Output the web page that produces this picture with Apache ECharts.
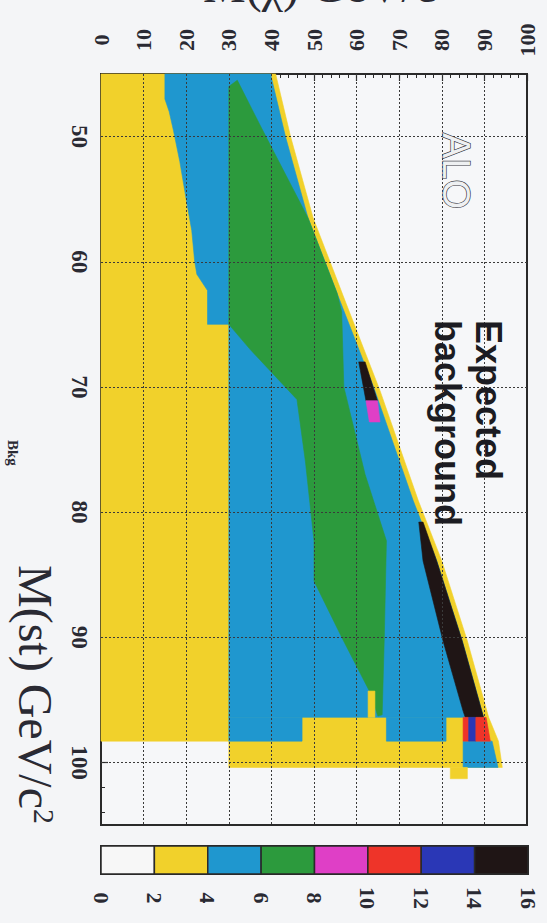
<!DOCTYPE html>
<html>
<head>
<meta charset="utf-8">
<script src="https://cdn.jsdelivr.net/npm/echarts@6/dist/echarts.min.js"></script>
<style>
  html, body { margin: 0; padding: 0; background: #f4f5f7; }
  #chart { width: 547px; height: 923px; }
</style>
</head>
<body>
<div id="chart"></div>
<script>
// Scan ranges (GeV/c²)
const mStopRange = [45, 105];
const mLspRange = [0, 100];
const mStopLabels = [50, 60, 70, 80, 90, 100];
const mStopMinorTicks = [46, 48, 52, 54, 56, 58, 62, 64, 66, 68, 72, 74, 76, 78, 82, 84, 86, 88, 92, 94, 96, 98, 102, 104];
const gridLsp = [10, 20, 30, 40, 50, 60, 70, 80, 90];
const gridStop = [50, 60, 70, 80, 90, 100];

// Colour scale: expected background events
const bkgEdges = [0, 2, 4, 6, 8, 10, 12, 14, 16];
const bkgColors = ['#f7f7f7', '#f1d12b', '#1f97cf', '#2c9a3d', '#df3fc6', '#ee3429', '#2a37b6', '#1f1515'];

// Region outlines as [M(χ), M(st)] vertices
const scanArea = [[0,45],[41,45],[44.5,50],[49.8,56.5],[57.5,63.3],[65.5,70.3],[74.5,79.1],[80,83.9],[86,90.3],[91,96.4],[93.3,98.3],[94.2,100.4],[30,100.4],[30,98.3],[0,98.3]];
const blueBand = [[15,45],[39.8,45],[43.3,50],[48.6,56.5],[56.3,63.3],[64.3,70.3],[73.3,79.1],[78.8,83.9],[84.8,90.3],[89.8,96.4],[30,96.4],[30,65],[25,65],[25,62.3],[22.5,61],[22,60],[21.3,57.5],[20,55],[18.5,52],[17,49.5],[16,48],[15,47]];
const greenBand = [[30,46],[32,45.5],[37.5,49.2],[48.6,56.5],[55.4,62.5],[56.5,64],[57,70],[62,77],[67,82.3],[66.5,90],[66,96.2],[65,96.3],[63,94.3],[56.5,90],[50,85.5],[50,82.3],[48,76],[46,71],[35,67],[30,65]];
const blackEdge = [[74.6,80.8],[75.6,80.8],[78.8,83.9],[84.8,90.3],[89.8,96.4],[85.5,96.4],[85,95.9],[80.3,90.3],[75.6,83.9]];
const blackSpot = [[60.5,68],[62,68],[64.9,71.1],[62.2,71.1]];
const magentaSpot = [[62.2,71.1],[64.9,71.1],[65.5,72.8],[63,72.8]];
const blueLowLeft = [[30,96.4],[47.2,96.4],[47.2,98.3],[30,98.3]];
const blueLowMid = [[67,96.4],[81,96.4],[81,98.3],[67,98.3]];
const blueCorner = [[85,98.3],[91.8,98.3],[93.2,100.4],[85,100.4]];
const redLeft = [[85,96.4],[86.3,96.4],[86.3,98.3],[85,98.3]];
const navyCell = [[86.3,96.4],[88,96.4],[88,98.3],[86.3,98.3]];
const redRight = [[88,96.4],[90.4,96.4],[91.4,98.3],[88,98.3]];
const yellowSpike = [[62.7,94.3],[64.3,94.3],[64.3,96.4],[62.7,96.4]];
const yellowTail = [[82,100.4],[86,100.4],[86,101.3],[82,101.3]];

// Drawing order with the background level of each region
const layers = [
  { shape: scanArea, bkg: 3 },
  { shape: blueBand, bkg: 5 },
  { shape: greenBand, bkg: 7 },
  { shape: blackEdge, bkg: 15 },
  { shape: blackSpot, bkg: 15 },
  { shape: magentaSpot, bkg: 9 },
  { shape: blueLowLeft, bkg: 5 },
  { shape: blueLowMid, bkg: 5 },
  { shape: blueCorner, bkg: 5 },
  { shape: redLeft, bkg: 11 },
  { shape: navyCell, bkg: 13 },
  { shape: redRight, bkg: 11 },
  { shape: yellowSpike, bkg: 3 },
  { shape: yellowTail, bkg: 3 }
];

function colorFor(v) {
  for (let i = 0; i < bkgColors.length; i++) {
    if (v >= bkgEdges[i] && v < bkgEdges[i + 1]) return bkgColors[i];
  }
  return bkgColors[bkgColors.length - 1];
}

const tickFont = { fontFamily: 'Liberation Serif', fontWeight: 'bold', color: '#2a2a33' };

const chart = echarts.init(document.getElementById('chart'), null, { renderer: 'svg' });

chart.setOption({
  animation: false,
  backgroundColor: '#f4f5f7',
  grid: [
    { left: 101, right: 20, top: 74, bottom: 98, show: true, backgroundColor: '#f6f7f9', borderColor: '#2a2a2a', borderWidth: 2 },
    { left: 101, right: 19, top: 846, height: 28, show: true, backgroundColor: '#f6f7f9', borderColor: '#2a2a2a', borderWidth: 2 }
  ],
  xAxis: [
    {
      gridIndex: 0, type: 'value', position: 'top',
      min: mLspRange[0], max: mLspRange[1], interval: 10,
      axisLine: { show: false },
      axisTick: { show: true, inside: true, length: 7, lineStyle: { color: '#2a2a2a', width: 1.2 } },
      minorTick: { show: true, splitNumber: 5, length: 4, lineStyle: { color: '#2a2a2a', width: 1 } },
      splitLine: { show: false },
      axisLabel: Object.assign({ rotate: -90, align: 'center', verticalAlign: 'middle', margin: 34, fontSize: 22 }, tickFont)
    },
    {
      gridIndex: 1, type: 'value', position: 'bottom',
      min: bkgEdges[0], max: bkgEdges[bkgEdges.length - 1], interval: 2,
      axisLine: { show: false }, axisTick: { show: false }, splitLine: { show: false },
      axisLabel: Object.assign({ rotate: -90, align: 'center', verticalAlign: 'middle', margin: 24, fontSize: 22 }, tickFont)
    }
  ],
  yAxis: [
    {
      gridIndex: 0, type: 'value', inverse: true, position: 'left',
      min: mStopRange[0], max: mStopRange[1],
      axisLine: { show: false },
      axisTick: { show: true, inside: true, length: 7, customValues: mStopLabels, lineStyle: { color: '#2a2a2a', width: 1.2 } },
      splitLine: { show: false },
      axisLabel: Object.assign({ customValues: mStopLabels, rotate: -90, align: 'center', verticalAlign: 'middle', margin: 22, fontSize: 23 }, tickFont)
    },
    {
      gridIndex: 0, type: 'value', inverse: true, position: 'left',
      min: mStopRange[0], max: mStopRange[1],
      axisLine: { show: false },
      axisTick: { show: true, inside: true, length: 4, customValues: mStopMinorTicks, lineStyle: { color: '#2a2a2a', width: 1 } },
      splitLine: { show: false },
      axisLabel: { show: false }
    },
    {
      gridIndex: 1, type: 'value', min: 0, max: 1, show: false
    }
  ],
  series: [
    {
      type: 'custom',
      xAxisIndex: 0, yAxisIndex: 0,
      z: 2,
      data: layers.map(l => l.shape[0]),
      encode: { x: 0, y: 1 },
      renderItem: function (params, api) {
        const layer = layers[params.dataIndex];
        const pts = layer.shape.map(p => api.coord(p));
        const c = colorFor(layer.bkg);
        return { type: 'polygon', shape: { points: pts }, style: { fill: c, stroke: c, lineWidth: 0.6 } };
      }
    },
    {
      type: 'line',
      xAxisIndex: 0, yAxisIndex: 0,
      z: 4,
      data: [],
      markLine: {
        silent: true,
        symbol: ['none', 'none'],
        label: { show: false },
        lineStyle: { color: '#3a3a3a', type: [2, 2], width: 1 },
        data: gridLsp.map(v => ({ xAxis: v })).concat(gridStop.map(v => ({ yAxis: v })))
      }
    },
    {
      type: 'custom',
      xAxisIndex: 1, yAxisIndex: 2,
      z: 2,
      data: bkgColors.map((c, i) => [bkgEdges[i], bkgEdges[i + 1]]),
      encode: { x: [0, 1] },
      renderItem: function (params, api) {
        const p0 = api.coord([api.value(0), 1]);
        const p1 = api.coord([api.value(1), 0]);
        return {
          type: 'rect',
          shape: { x: p0[0], y: p0[1], width: p1[0] - p0[0], height: p1[1] - p0[1] },
          style: { fill: bkgColors[params.dataIndex], stroke: '#2a2a2a', lineWidth: 1.5 }
        };
      }
    }
  ],
  graphic: [
    {
      type: 'text', x: 35, y: 565, rotation: -Math.PI / 2, z: 10,
      style: {
        text: 'M(st) GeV/c{sup|2}',
        font: '48px "Liberation Serif"', fill: '#2a2a33',
        align: 'left', verticalAlign: 'middle',
        rich: { sup: { font: '30px "Liberation Serif"', fill: '#2a2a33', verticalAlign: 'top', padding: [0, 0, 18, 0] } }
      }
    },
    {
      type: 'text', x: 203, y: 9, z: 10,
      style: {
        text: 'M(χ) GeV/c²',
        font: '48px "Liberation Serif"', fill: '#2a2a33',
        align: 'left', verticalAlign: 'bottom'
      }
    },
    {
      type: 'text', x: 13, y: 440, rotation: -Math.PI / 2, z: 10,
      style: { text: 'Bkg', font: 'bold 15px "Liberation Serif"', fill: '#2a2a33', align: 'left', verticalAlign: 'middle' }
    },
    {
      type: 'text', x: 456, y: 133, rotation: -Math.PI / 2, z: 10,
      style: { text: 'ALO', font: '38px "Liberation Sans"', fill: '#eef0f2', stroke: '#3a3a42', lineWidth: 1.4, align: 'left', verticalAlign: 'middle' }
    },
    {
      type: 'text', x: 488, y: 320, rotation: -Math.PI / 2, z: 10,
      style: { text: 'Expected', font: 'bold 36px "Liberation Sans"', fill: '#1c1c22', align: 'left', verticalAlign: 'middle' }
    },
    {
      type: 'text', x: 447, y: 320, rotation: -Math.PI / 2, z: 10,
      style: { text: 'background', font: 'bold 36px "Liberation Sans"', fill: '#1c1c22', align: 'left', verticalAlign: 'middle' }
    }
  ]
});
</script>
</body>
</html>
